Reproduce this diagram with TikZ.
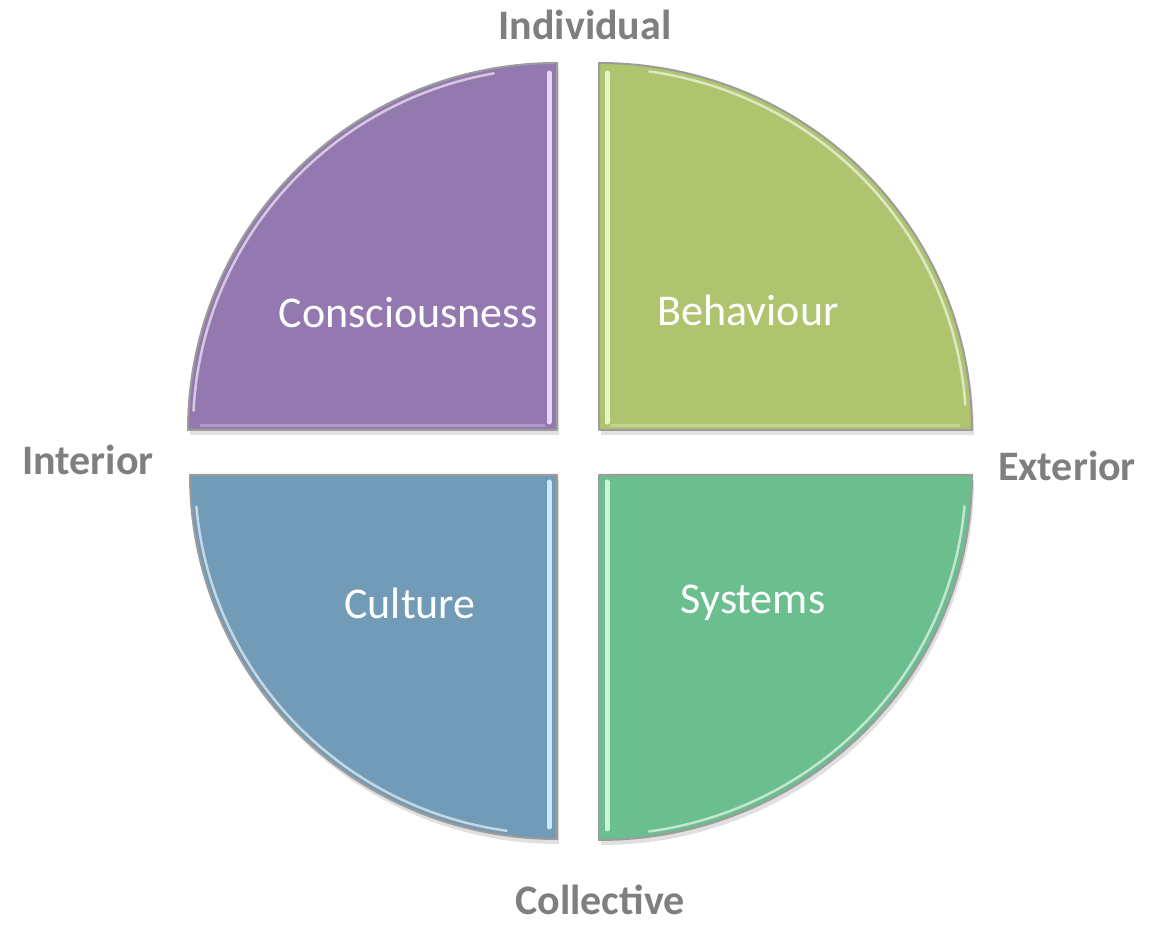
\documentclass[tikz,border=0pt]{standalone}
\usepackage{fontspec}
\setmainfont{Carlito}
\definecolor{cpurple}{HTML}{9479B0}
\definecolor{cyellowgreen}{HTML}{AFC46E}
\definecolor{cblue}{HTML}{719BB7}
\definecolor{cgreen}{HTML}{6BBE8D}
\definecolor{lpurple}{HTML}{E6D8F5}
\definecolor{lyellowgreen}{HTML}{EAF4C4}
\definecolor{lblue}{HTML}{CBE9F8}
\definecolor{lgreen}{HTML}{CBF2DD}
\definecolor{labelgray}{HTML}{7F7F7F}
\definecolor{edgegray}{HTML}{9C9C9C}
\tikzset{
  sector/.style={draw=edgegray, line width=2pt, line join=round},
  shadowsec/.style={fill=black!12, draw=none},
  strip/.style={line width=5pt, line cap=round},
  gloss/.style={white, line width=2.5pt, opacity=0.6, line cap=round},
  inlabel/.style={text=white, font=\fontsize{44}{50}\selectfont},
  axislabel/.style={text=labelgray, font=\bfseries\fontsize{42}{48}\selectfont, inner sep=0pt}
}
\begin{document}
\begin{tikzpicture}[x=1pt,y=1pt]
\useasboundingbox (0,0) rectangle (1150,925);
% shadows
\fill[shadowsec] (559,490) -- (190,490) arc[start angle=180,end angle=90,x radius=369,y radius=367] -- cycle;
\fill[shadowsec] (601,490) -- (601,857) arc[start angle=90,end angle=0,x radius=373,y radius=367] -- cycle;
\fill[shadowsec] (559,445) -- (192,445) arc[start angle=180,end angle=270,x radius=367,y radius=364] -- cycle;
\fill[shadowsec] (601,445) -- (601,80) arc[start angle=270,end angle=360,x radius=373,y radius=365] -- cycle;
% top-left: Consciousness
\filldraw[sector, fill=cpurple] (557,495) -- (188,495) arc[start angle=180,end angle=90,x radius=369,y radius=367] -- cycle;
\draw[strip, lpurple] (549,503) -- (549,852);
\draw[line width=3pt, cpurple!75!white] (200,499) -- (545,499);
\draw[gloss] (557,495) ++(177:364) arc[start angle=177,end angle=100,x radius=364,y radius=362];
% top-right: Behaviour
\filldraw[sector, fill=cyellowgreen] (599,495) -- (599,862) arc[start angle=90,end angle=0,x radius=373,y radius=367] -- cycle;
\draw[strip, lyellowgreen] (607,503) -- (607,852);
\draw[line width=3pt, cyellowgreen!75!white] (611,499) -- (960,499);
\draw[gloss] (599,495) ++(82:362) arc[start angle=82,end angle=4,x radius=368,y radius=362];
% bottom-left: Culture
\filldraw[sector, fill=cblue] (557,450) -- (190,450) arc[start angle=180,end angle=270,x radius=367,y radius=364] -- cycle;
\draw[strip, lblue] (549,443) -- (549,98);
\draw[gloss] (557,450) ++(185:362) arc[start angle=185,end angle=262,x radius=362,y radius=359];
% bottom-right: Systems
\filldraw[sector, fill=cgreen] (599,450) -- (599,85) arc[start angle=270,end angle=360,x radius=373,y radius=365] -- cycle;
\draw[strip, lgreen] (607,443) -- (607,96);
\draw[gloss] (599,450) ++(278:360) arc[start angle=278,end angle=355,x radius=368,y radius=360];
% texts
\node[inlabel] (consc) at (408,612) {Consciousness};
\node[inlabel] (behav) at (748,615) {Behaviour};
\node[inlabel] (cult) at (410,322) {Culture};
\node[inlabel] (syst) at (753,322) {Systems};
\node[axislabel] (indiv) at (585,900) {Individual};
\node[axislabel] (inter) at (88,465) {Interior};
\node[axislabel] (exter) at (1067,459) {Exterior};
\node[axislabel] (coll) at (600,25) {Collective};
\end{tikzpicture}
\end{document}
